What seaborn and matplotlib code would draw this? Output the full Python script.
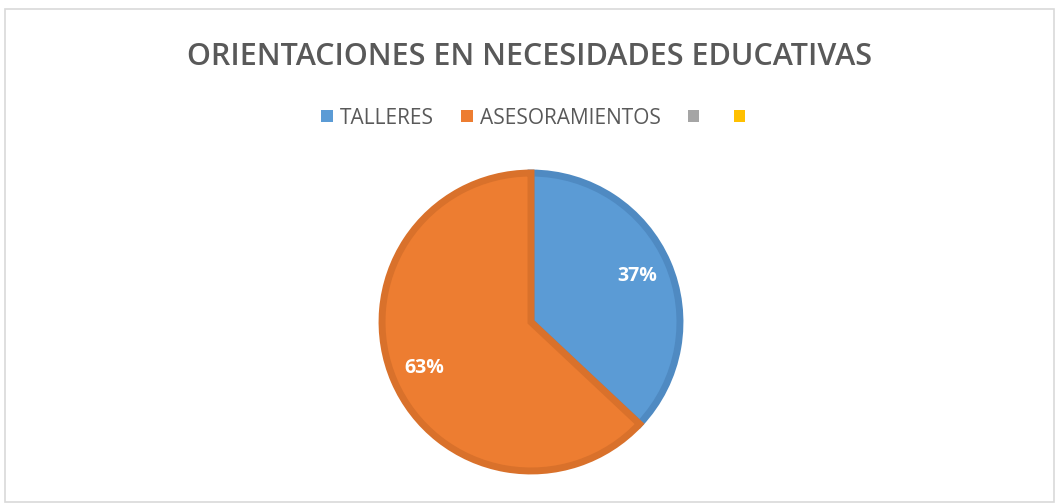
import matplotlib
matplotlib.use("Agg")
import matplotlib.pyplot as plt
import matplotlib.patches as mpatches
import seaborn as sns

title = "ORIENTACIONES EN NECESIDADES EDUCATIVAS"
categories = ["TALLERES", "ASESORAMIENTOS", "", ""]
values = [37, 63, 0, 0]
colors = ["#5B9BD5", "#ED7D31", "#A5A5A5", "#FFC000"]
edge_colors = ["#4F8AC2", "#D9712B", "#959595", "#E6AD00"]

sns.set_theme(style="white")
plt.rcParams["font.family"] = ["Open Sans", "DejaVu Sans"]

fig = plt.figure(figsize=(10.57, 5.04), dpi=100)
fig.patch.set_facecolor("white")

# chart frame like the Excel chart area
frame = mpatches.Rectangle((5 / 1057, 2 / 504), 1049 / 1057, 493 / 504,
                           transform=fig.transFigure, fill=False,
                           edgecolor="#D9D9D9", linewidth=1.2)
fig.patches.append(frame)

fig.text(530 / 1057, 1 - 57 / 504, title, ha="center", va="center",
         fontsize=22, color="#595959", fontweight="semibold")

ax = fig.add_axes([(531 - 152) / 1057, (504 - 322 - 152) / 504,
                   304 / 1057, 304 / 504])

shown = [(v, c, e) for v, c, e in zip(values, colors, edge_colors) if v > 0]
wedges, texts, autotexts = ax.pie(
    [s[0] for s in shown], colors=[s[1] for s in shown],
    startangle=90, counterclock=False, radius=0.98,
    autopct="%1.0f%%", pctdistance=0.78,
    wedgeprops=dict(linewidth=5),
    textprops=dict(color="white", fontsize=14, fontweight="bold"))
for w, s in zip(wedges, shown):
    w.set_edgecolor(s[2])
    w.set_joinstyle("miter")
ax.set_xlim(-1, 1)
ax.set_ylim(-1, 1)
ax.set_aspect("equal")
ax.axis("off")

handles = [mpatches.Patch(facecolor=c, edgecolor="none") for c in colors]
fig.legend(handles, categories, loc="center", ncol=4,
           bbox_to_anchor=(537 / 1057, 1 - 118 / 504), frameon=False,
           fontsize=15, handlelength=0.55, handleheight=0.55,
           handletextpad=0.35, columnspacing=1.3,
           labelcolor="#595959")

fig.savefig("out.png", dpi=100, facecolor="white")
